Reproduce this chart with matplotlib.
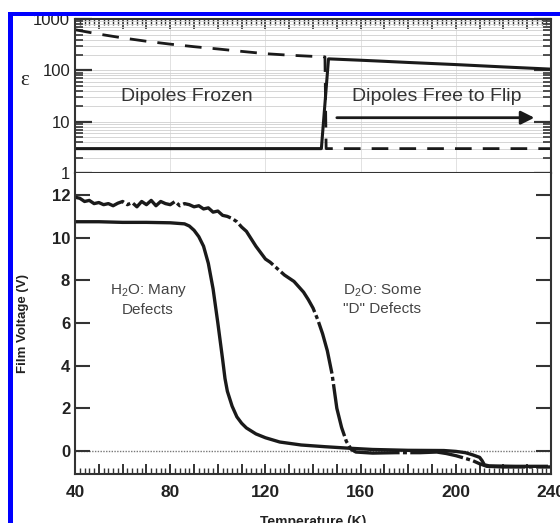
import matplotlib
matplotlib.use('Agg')
import matplotlib.pyplot as plt
from matplotlib.ticker import MultipleLocator, LogLocator, FuncFormatter, NullFormatter
from matplotlib.patches import Rectangle

plt.rcParams['font.family'] = ['Liberation Sans', 'DejaVu Sans']
plt.rcParams['mathtext.default'] = 'regular'

# dielectric constant (top panel)
t_eps_hi = [40, 50, 60, 70, 80, 90, 100, 110, 120, 130, 140, 145, 145.5, 160, 180, 200, 220, 240]
eps_dash = [620, 510, 430, 370, 325, 290, 262, 235, 212, 198, 188, 184, 3, 3, 3, 3, 3, 3]
t_eps_solid = [40, 143.5, 146.5, 160, 168, 180, 200, 220, 240]
eps_solid = [3, 3, 168, 158, 152, 143, 130, 117, 106]

# film voltage, H2O film
t_h2o = [40, 50, 60, 70, 80, 86, 88, 90, 92, 94, 96, 98, 100, 102, 103, 104, 106,
         108, 110, 112, 116, 120, 126, 135, 145, 155, 165, 180, 195, 200, 204, 207,
         210, 211, 212, 214, 225, 238]
v_h2o = [10.75, 10.75, 10.72, 10.72, 10.7, 10.65, 10.55, 10.35, 10.05, 9.6, 8.8, 7.6,
         6.0, 4.3, 3.4, 2.8, 2.1, 1.6, 1.3, 1.08, 0.8, 0.62, 0.42, 0.28, 0.2, 0.13,
         0.07, 0.03, 0.02, -0.02, -0.08, -0.18, -0.3, -0.45, -0.65, -0.7, -0.72, -0.72]

# film voltage, D2O film
t_d2o = [40, 42, 44, 46, 48, 50, 52, 54, 56, 58, 60, 62, 64, 66, 68, 70, 72, 74, 76,
         78, 80, 82, 84, 86, 88, 90, 92, 94, 96, 98, 100, 102, 104, 106, 108, 110,
         112, 114, 116, 118, 120, 122, 124, 126, 128, 130, 132, 134, 136, 138, 140,
         142, 144, 146, 148, 150, 152, 154, 156, 158, 165, 175, 185, 192, 196, 200,
         204, 207, 210, 213, 220, 240]
v_d2o = [11.9, 11.85, 11.7, 11.75, 11.6, 11.65, 11.55, 11.6, 11.5, 11.62, 11.7, 11.55,
         11.65, 11.45, 11.7, 11.55, 11.75, 11.5, 11.7, 11.6, 11.55, 11.7, 11.5, 11.6,
         11.55, 11.45, 11.5, 11.35, 11.4, 11.2, 11.25, 11.05, 11.0, 10.9, 10.75, 10.5,
         10.3, 9.95, 9.6, 9.3, 9.0, 8.85, 8.65, 8.45, 8.25, 8.1, 7.95, 7.7, 7.45, 7.1,
         6.7, 6.15, 5.5, 4.7, 3.6, 2.0, 1.1, 0.45, 0.08, -0.05, -0.1, -0.08, -0.08,
         -0.05, -0.12, -0.22, -0.35, -0.45, -0.6, -0.72, -0.75, -0.75]

ink = '#1a1a1a'
spine_c = '#333333'

fig = plt.figure(figsize=(5.6, 5.23), dpi=100)
ax_top = fig.add_axes([0.134, 0.669, 0.850, 0.2945])
ax = fig.add_axes([0.134, 0.0937, 0.850, 0.5753])

# ---- top panel: epsilon on log scale
ax_top.set_yscale('log')
ax_top.set_xlim(40, 240)
ax_top.set_ylim(1, 1000)
ax_top.plot(t_eps_hi, eps_dash, color=ink, lw=2, dashes=(6, 4))
ax_top.plot(t_eps_solid, eps_solid, color=ink, lw=2.2)

ax_top.yaxis.set_major_locator(LogLocator(base=10, numticks=10))
ax_top.yaxis.set_minor_locator(LogLocator(base=10, subs=range(2, 10), numticks=50))
ax_top.yaxis.set_major_formatter(FuncFormatter(lambda v, p: '%d' % round(v)))
ax_top.yaxis.set_minor_formatter(NullFormatter())
ax_top.xaxis.set_major_locator(MultipleLocator(10))
ax_top.xaxis.set_minor_locator(MultipleLocator(2))
ax_top.tick_params(axis='x', which='both', direction='in', bottom=False, top=True,
                   labelbottom=False, color=spine_c)
ax_top.tick_params(axis='x', which='major', length=7, width=1.2)
ax_top.tick_params(axis='x', which='minor', length=4, width=1)
ax_top.tick_params(axis='y', which='both', direction='in', left=True, right=True,
                   color=spine_c, labelsize=12, labelcolor='#222222')
ax_top.tick_params(axis='y', which='major', length=12, width=1.6)
ax_top.tick_params(axis='y', which='minor', length=6, width=1.2)

ax_top.grid(True, which='both', axis='y', color='#cfcfcf', lw=0.6)
for xv in [80, 120, 160, 200]:
    ax_top.axvline(xv, color='#dddddd', lw=0.6, zorder=0)
for s in ax_top.spines.values():
    s.set_color(spine_c)
    s.set_linewidth(1.5)

ax_top.text(-0.105, 0.60, 'ε', transform=ax_top.transAxes, fontsize=15,
            family=['Liberation Serif', 'DejaVu Serif'], ha='center', va='center',
            color='#222222')
ax_top.text(87, 12 * 2.6, 'Dipoles Frozen', fontsize=14, ha='center', va='center',
            color='#333333')
ax_top.text(192, 12 * 2.6, 'Dipoles Free to Flip', fontsize=14, ha='center',
            va='center', color='#333333')
ax_top.annotate('', xy=(233, 12), xytext=(150, 12),
                arrowprops=dict(arrowstyle='-|>', lw=2, color=ink,
                                mutation_scale=20, shrinkA=0, shrinkB=0))

# ---- bottom panel: film voltage
ax.set_xlim(40, 240)
ax.set_ylim(-1.08, 13.03)
ax.axhline(0, color='#777777', lw=1, ls=(0, (1, 1)), zorder=1)
ax.plot(t_h2o, v_h2o, color=ink, lw=2.4)
ax.plot(t_d2o, v_d2o, color=ink, lw=2.4, dashes=(16, 1, 1.2, 1))

ax.xaxis.set_major_locator(MultipleLocator(10))
ax.xaxis.set_minor_locator(MultipleLocator(2))
ax.xaxis.set_major_formatter(FuncFormatter(lambda v, p: '%d' % v if round(v) % 40 == 0 else ''))
ax.set_yticks([0, 2, 4, 6, 8, 10, 12])
ax.tick_params(axis='x', which='both', direction='in', top=False, color=spine_c,
               labelsize=12.5, pad=8)
ax.tick_params(axis='x', which='major', length=7, width=1.4)
ax.tick_params(axis='x', which='minor', length=4, width=1)
ax.tick_params(axis='y', direction='in', left=True, right=True, length=11, width=1.5,
               color=spine_c, labelsize=12)
for lab in ax.get_xticklabels() + ax.get_yticklabels():
    lab.set_fontweight('bold')
    lab.set_color('#222222')
ax.spines['top'].set_visible(False)
for k in ['left', 'right', 'bottom']:
    ax.spines[k].set_color(spine_c)
    ax.spines[k].set_linewidth(1.5)

ax.set_xlabel('Temperature (K)', fontsize=10, fontweight='bold', labelpad=11, color='#222222')
ax.set_ylabel('Film Voltage (V)', fontsize=9.5, fontweight='bold', labelpad=16, color='#222222')

ax.text(70.7, 7.1, 'H$_2$O: Many\nDefects', fontsize=11, ha='center', va='center',
        color='#444444', linespacing=1.3)
ax.text(152.5, 7.1, 'D$_2$O: Some\n"D" Defects', fontsize=11, ha='left', va='center',
        color='#444444', linespacing=1.3)

# blue frame along the left and top edge
W, H = 560.0, 523.0
fig.add_artist(Rectangle((8 / W, 0), 5 / W, 1 - 12 / H, transform=fig.transFigure,
                         color='#0000ff', lw=0, zorder=10))
fig.add_artist(Rectangle((8 / W, 1 - 16 / H), 1 - 8 / W, 4 / H, transform=fig.transFigure,
                         color='#0000ff', lw=0, zorder=10))

fig.savefig('out.png', dpi=100)
